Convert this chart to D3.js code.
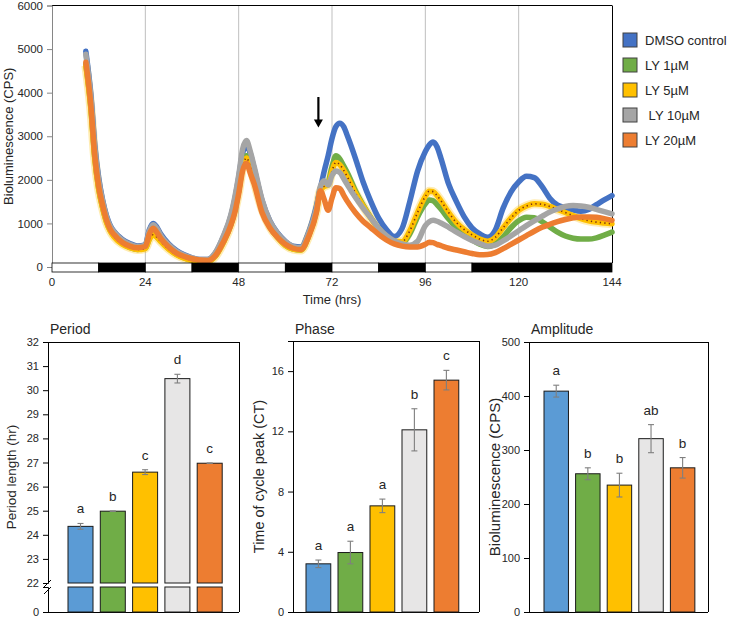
<!DOCTYPE html>
<html><head><meta charset="utf-8">
<script src="https://cdn.jsdelivr.net/npm/d3@7"></script>
<style>
body{margin:0;background:#fff}
svg{font-family:"Liberation Sans",Arial,sans-serif}
</style>
</head><body>
<svg id="c" width="731" height="617"></svg>
<script>
// ---------- DATA: time course ----------
const hours = [8.7,10,11,12,13,14,15,16,18,20,22,24,25,26,27,28,30,32,34,36,38,40,42,44,46,47,48,49,50,51,52,54,56,58,60,62,64,66,68,69,70,71,72,73,74,75,76,78,80,82,84,86,88,90,92,94,96,97,98,99,100,102,104,106,108,110,112,114,116,118,120,122,124,126,128,130,132,134,136,138,140,142,144];
const dmso = [4950,3950,2800,2050,1540,1180,950,810,640,540,480,510,850,1000,910,750,530,380,280,210,170,170,320,680,1170,1550,2050,2600,2800,2600,2250,1530,1060,780,590,480,460,800,1400,1800,2200,2550,2950,3220,3300,3220,3000,2500,1950,1500,1120,860,700,880,1500,2200,2650,2800,2870,2760,2500,1900,1500,1150,900,760,680,850,1350,1720,1950,2080,2050,1850,1580,1420,1360,1310,1280,1320,1430,1540,1640];
const ly1 = [4650,3650,2500,1800,1370,1040,830,700,540,450,400,430,640,750,690,590,420,290,210,160,130,130,250,560,980,1300,1750,2300,2550,2350,2000,1350,930,680,500,410,390,720,1300,1800,1900,1950,2300,2550,2480,2320,2150,1750,1420,1130,880,690,570,560,760,1150,1450,1540,1520,1430,1330,1100,900,740,620,520,470,530,690,900,1060,1140,1130,1040,920,800,710,660,640,640,670,730,800];
const ly5 = [4620,3620,2480,1790,1360,1030,820,690,530,445,400,425,630,740,680,580,410,285,205,155,125,125,245,550,970,1290,1730,2280,2500,2300,1960,1330,920,680,500,410,390,710,1280,1750,1850,1880,2200,2400,2350,2220,2060,1700,1400,1120,880,700,590,580,830,1250,1620,1740,1730,1640,1520,1250,1020,860,740,640,590,680,900,1120,1300,1400,1450,1440,1390,1320,1250,1180,1110,1060,1030,1010,990];
const ly10 = [4880,3900,2750,2000,1520,1160,930,800,620,520,470,500,820,970,880,720,510,360,270,210,170,170,330,700,1200,1600,2100,2700,2900,2650,2300,1550,1060,770,580,470,440,780,1350,1850,1980,1880,2100,2200,2170,2030,1880,1600,1350,1120,890,720,600,530,500,590,950,1040,1070,1050,1010,910,800,700,610,540,475,500,600,710,830,950,1060,1160,1260,1330,1390,1410,1400,1370,1320,1270,1220];
const ly20 = [4700,3700,2550,1850,1420,1080,860,740,570,480,440,470,750,890,790,650,460,320,240,190,160,150,260,560,960,1250,1680,2200,2380,2150,1900,1250,900,680,520,430,400,700,1250,1750,1550,1300,1580,1820,1800,1650,1500,1250,1050,900,750,620,530,480,460,460,520,570,560,520,490,430,390,350,310,280,285,330,420,520,620,720,820,910,980,1040,1090,1130,1150,1150,1140,1110,1070];
const seriesNames = ["DMSO control","LY 1µM","LY 5µM"," LY 10µM","LY 20µM"];
const lineColors = ["#4472c4","#70ad47","#ffc000","#a5a5a5","#ed7d31"];
const yTicksTop = [0,1000,2000,3000,4000,5000,6000];
const xTicksTop = [0,24,48,72,96,120,144];
const ldStart = [0,12,24,36,48,60,72,84,96,108];
const ldEnd   = [12,24,36,48,60,72,84,96,108,144];
const ldDark  = [0,1,0,1,0,1,0,1,0,1];
const arrowHour = 68.5, arrowTop = 3900, arrowBottom = 3200;

// ---------- DATA: bar panels ----------
const groups = ["DMSO","LY1","LY5","LY10","LY20"];
const barColors = ["#5b9bd5","#70ad47","#ffc000","#e7e6e6","#ed7d31"];
const periodVals = [24.35,24.98,26.6,30.48,26.97];
const periodErr  = [0.12,0.01,0.1,0.18,0.01];
const periodLetters = ["a","b","c","d","c"];
const periodTicks = [22,23,24,25,26,27,28,29,30,31,32];
const phaseVals = [3.2,3.95,7.05,12.1,15.4];
const phaseErr  = [0.25,0.75,0.45,1.4,0.65];
const phaseLetters = ["a","a","a","b","c"];
const phaseTicks = [0,4,8,12,16];
const ampVals = [409,256,235,321,267];
const ampErr  = [11,11,22,26,19];
const ampLetters = ["a","b","b","ab","b"];
const ampTicks = [0,100,200,300,400,500];

const svg = d3.select("#c");
const txt = "#262626";
const FONT = '"Liberation Sans",Arial,sans-serif';

// ================= TOP CHART =================
const x = d3.scaleLinear().domain([0,144]).range([52,612]);
const y = d3.scaleLinear().domain([0,6000]).range([267,5.5]);
const topG = svg.append("g");

topG.selectAll(".grid").data(xTicksTop.slice(1,-1)).join("line")
  .attr("x1",d=>x(d)).attr("x2",d=>x(d)).attr("y1",y(6000)).attr("y2",263)
  .attr("stroke","#bfbfbf").attr("stroke-width",1);
topG.append("line").attr("x1",x(0)).attr("x2",x(144)).attr("y1",y(6000)).attr("y2",y(6000)).attr("stroke","#000");
topG.append("line").attr("x1",x(144)+0.5).attr("x2",x(144)+0.5).attr("y1",y(6000)).attr("y2",263).attr("stroke","#000");

const ya = topG.append("g").attr("transform",`translate(${x(0)},0)`)
  .call(d3.axisLeft(y).tickValues(yTicksTop).tickSize(5).tickPadding(4).tickFormat(d3.format("d")));
ya.select(".domain").attr("stroke","#868686");
ya.selectAll(".tick line").attr("stroke","#868686");
ya.selectAll("text").attr("font-size",11.5).attr("fill",txt).attr("font-family",FONT);

const series = [dmso,ly1,ly5,ly10,ly20];
const lineGen = d3.line().x((d,i)=>x(hours[i])).y(d=>y(d)).curve(d3.curveMonotoneX);
// faint halo mimicking the error bars of LY 5µM
topG.append("path").datum(ly5).attr("d",lineGen).attr("fill","none")
  .attr("stroke","#ffc000").attr("stroke-width",9).attr("stroke-opacity",0.3);
series.forEach((s,k)=>{
  topG.append("path").datum(s).attr("d",lineGen).attr("fill","none")
    .attr("stroke",lineColors[k]).attr("stroke-width",5.5).attr("stroke-linejoin","round").attr("stroke-linecap","round");
  if(k===2){
    topG.append("path").datum(s).attr("d",lineGen).attr("fill","none")
      .attr("stroke","#7b2f12").attr("stroke-width",1.6).attr("stroke-dasharray","1.3,3.2");
  }
});

topG.selectAll(".ld").data(ldStart).join("rect")
  .attr("x",(d)=>x(d)).attr("width",(d,i)=>x(ldEnd[i])-x(d))
  .attr("y",263).attr("height",9)
  .attr("fill",(d,i)=>ldDark[i]?"#000":"#fff").attr("stroke","#000").attr("stroke-width",0.8);

topG.selectAll(".xt").data(xTicksTop).join("text")
  .attr("x",d=>x(d)).attr("y",286).attr("text-anchor","middle")
  .attr("font-size",11.5).attr("fill",txt).text(d=>d);
topG.append("text").attr("x",332).attr("y",304).attr("text-anchor","middle")
  .attr("font-size",13).attr("fill",txt).text("Time (hrs)");
topG.append("text").attr("transform",`translate(13,${(y(6000)+y(0))/2}) rotate(-90)`)
  .attr("text-anchor","middle").attr("font-size",13).attr("fill",txt).text("Bioluminescence (CPS)");

topG.append("line").attr("x1",x(arrowHour)).attr("x2",x(arrowHour)).attr("y1",y(arrowTop)).attr("y2",y(arrowBottom)-6)
  .attr("stroke","#000").attr("stroke-width",2.2);
topG.append("path").attr("d",`M${x(arrowHour)-4.5},${y(arrowBottom)-8} L${x(arrowHour)+4.5},${y(arrowBottom)-8} L${x(arrowHour)},${y(arrowBottom)} Z`).attr("fill","#000");

const lg = topG.append("g");
seriesNames.forEach((n,i)=>{
  lg.append("rect").attr("x",623).attr("y",33+i*25).attr("width",14).attr("height",14)
    .attr("fill",lineColors[i]).attr("stroke","#404040").attr("stroke-width",1);
  lg.append("text").attr("x",645).attr("y",45+i*25).attr("font-size",13).attr("fill",txt)
    .style("white-space","pre").text(n);
});

// ================= BAR PANELS =================
function panel(o){
  const g = svg.append("g");
  const r0 = o.bar0 - o.step*0.113;
  const xb = d3.scaleBand().domain(groups).range([r0, r0 + o.step*5]).paddingInner(0.226).paddingOuter(0.113);
  g.append("line").attr("x1",o.L).attr("x2",o.R).attr("y1",o.T+0.5).attr("y2",o.T+0.5).attr("stroke","#000");
  g.append("line").attr("x1",o.R+0.5).attr("x2",o.R+0.5).attr("y1",o.T).attr("y2",o.B).attr("stroke","#000");
  g.append("line").attr("x1",o.L).attr("x2",o.R).attr("y1",o.B+0.5).attr("y2",o.B+0.5).attr("stroke","#000");
  const ax = g.append("g").attr("transform",`translate(${o.L},0)`)
    .call(d3.axisLeft(o.y).tickValues(o.ticks).tickSize(5).tickPadding(4));
  ax.selectAll("text").attr("font-size",o.tfs).attr("fill",txt).attr("font-family",FONT);
  ax.select(".domain").attr("stroke","#000");
  if(o.yLow){
    const ax2 = g.append("g").attr("transform",`translate(${o.L},0)`)
      .call(d3.axisLeft(o.yLow).tickValues([0]).tickSize(5).tickPadding(4));
    ax2.selectAll("text").attr("font-size",o.tfs).attr("fill",txt).attr("font-family",FONT);
    ax2.select(".domain").attr("stroke","#000");
    g.append("line").attr("x1",o.L-4).attr("y1",o.y.range()[0]+4).attr("x2",o.L+3).attr("y2",o.y.range()[0]-3).attr("stroke","#000");
    g.append("line").attr("x1",o.L-4).attr("y1",o.yLow.range()[1]+7).attr("x2",o.L+3).attr("y2",o.yLow.range()[1]).attr("stroke","#000");
  }
  const base = o.yLow ? o.y.domain()[0] : 0;
  g.selectAll(".b").data(o.vals).join("rect")
    .attr("x",(d,i)=>xb(groups[i])).attr("width",xb.bandwidth())
    .attr("y",d=>o.y(d)).attr("height",d=>o.y(base)-o.y(d))
    .attr("fill",(d,i)=>barColors[i]).attr("stroke","#1a1a1a").attr("stroke-width",1);
  if(o.yLow){
    g.selectAll(".bl").data(o.vals).join("rect")
      .attr("x",(d,i)=>xb(groups[i])).attr("width",xb.bandwidth())
      .attr("y",o.yLow(base)).attr("height",o.yLow(0)-o.yLow(base))
      .attr("fill",(d,i)=>barColors[i]).attr("stroke","#1a1a1a").attr("stroke-width",1);
  }
  o.vals.forEach((v,i)=>{
    const cx = xb(groups[i])+xb.bandwidth()/2, e=o.err[i];
    const eg = g.append("g").attr("stroke","#7f7f7f").attr("stroke-width",1.1);
    eg.append("line").attr("x1",cx).attr("x2",cx).attr("y1",o.y(v+e)).attr("y2",o.y(v-e));
    eg.append("line").attr("x1",cx-3).attr("x2",cx+3).attr("y1",o.y(v+e)).attr("y2",o.y(v+e));
    eg.append("line").attr("x1",cx-3).attr("x2",cx+3).attr("y1",o.y(v-e)).attr("y2",o.y(v-e));
    g.append("text").attr("x",cx).attr("y",o.y(v+e)-10).attr("text-anchor","middle")
      .attr("font-size",o.lfs).attr("fill",txt).text(o.letters[i]);
  });
  g.append("text").attr("x",o.L+2).attr("y",334).attr("font-size",o.hfs).attr("fill",txt).text(o.title);
  g.append("text").attr("transform",`translate(${o.labX},${(o.T+o.B)/2}) rotate(-90)`)
    .attr("text-anchor","middle").attr("font-size",o.yfs).attr("fill",txt).text(o.ylabel);
}

panel({L:48,R:239,T:342,B:612,
  y:d3.scaleLinear().domain([22,32]).range([583,342]),
  yLow:d3.scaleLinear().domain([0,22]).range([612,587]),
  ticks:periodTicks, vals:periodVals, err:periodErr, letters:periodLetters,
  bar0:68, step:32.3, title:"Period", ylabel:"Period length (hr)", labX:16,
  tfs:11, lfs:13.5, hfs:14, yfs:13.5});
panel({L:293,R:479,T:341,B:612,
  y:d3.scaleLinear().domain([0,18]).range([612,341]),
  ticks:phaseTicks, vals:phaseVals, err:phaseErr, letters:phaseLetters,
  bar0:306, step:32, title:"Phase", ylabel:"Time of cycle peak (CT)", labX:264,
  tfs:11, lfs:13.5, hfs:14, yfs:14.5});
panel({L:529,R:708,T:342,B:612,
  y:d3.scaleLinear().domain([0,500]).range([612,342]),
  ticks:ampTicks, vals:ampVals, err:ampErr, letters:ampLetters,
  bar0:544, step:31.6, title:"Amplitude", ylabel:"Bioluminescence (CPS)", labX:500,
  tfs:11, lfs:13.5, hfs:14, yfs:15});
</script>
</body></html>
